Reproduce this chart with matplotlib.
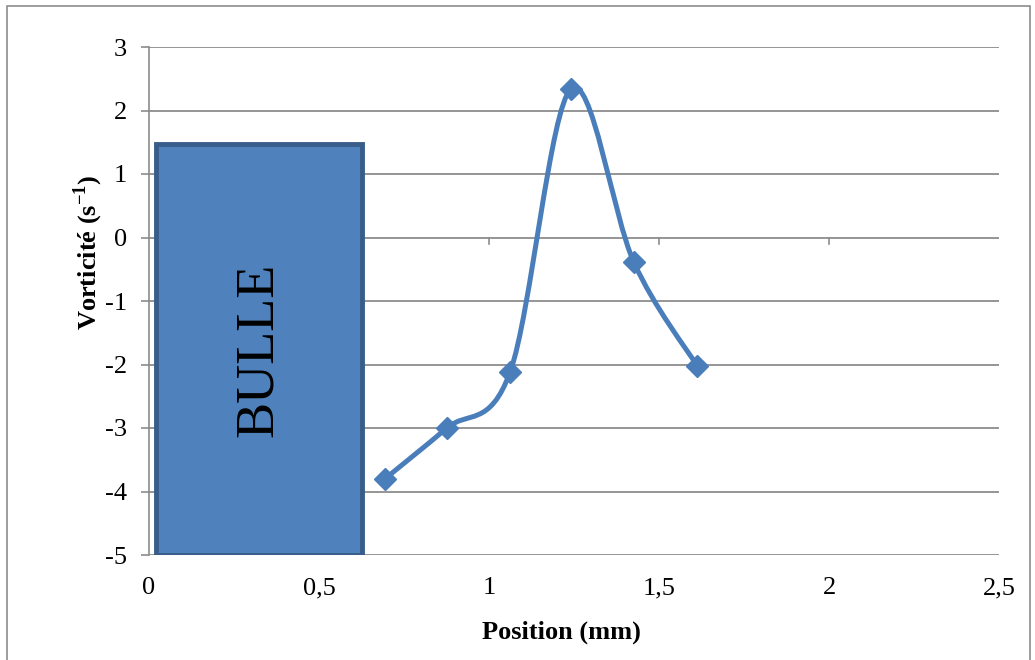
import numpy as np
import matplotlib.pyplot as plt
from matplotlib.patches import Rectangle
from matplotlib.path import Path
from matplotlib.patches import PathPatch

plt.rcParams['font.family'] = ['Liberation Serif', 'DejaVu Serif']
plt.rcParams['mathtext.fontset'] = 'custom'
plt.rcParams['mathtext.rm'] = 'Liberation Serif'
plt.rcParams['mathtext.bf'] = 'Liberation Serif:bold'

# donnees
position = [0.694, 0.876, 1.062, 1.241, 1.426, 1.612]
vorticite = [-3.80, -3.00, -2.12, 2.34, -0.39, -2.02]
xticks = [0, 0.5, 1, 1.5, 2, 2.5]
xticklabels = ["0", "0,5", "1", "1,5", "2", "2,5"]
yticks = [-5, -4, -3, -2, -1, 0, 1, 2, 3]
bulle_x = [0.02, 0.626]
bulle_y = [-5.0, 1.47]

blue = "#4A7EBB"
grid = "#8C8C8C"

fig = plt.figure(figsize=(10.35, 6.6), dpi=100)
ax = fig.add_axes([149/1035, 1-555/660, 850/1035, 508/660])

# cadre du graphique
fig.patches.append(Rectangle((7/1035, -0.01), 1023/1035, 1-6/660+0.01,
                             transform=fig.transFigure, fill=False,
                             edgecolor="#8C8C8C", lw=1.2))

ax.set_xlim(0, 2.5)
ax.set_ylim(-5, 3)
for s in ["top", "right", "bottom"]:
    ax.spines[s].set_visible(False)
ax.spines["left"].set_color(grid)
ax.spines["left"].set_linewidth(1.2)

for y in yticks:
    ax.axhline(y, color=grid, lw=1.3, zorder=1)

ax.set_yticks(yticks)
ax.set_yticklabels([str(v) for v in yticks])
ax.set_xticks(xticks)
ax.set_xticklabels(xticklabels)
ax.tick_params(axis="y", length=6, color=grid, width=1.2, labelsize=19, pad=10)
ax.tick_params(axis="x", length=0, labelsize=19, pad=16)

# petits reperes sur l'axe y=0
for x in xticks[1:-1]:
    ax.plot([x, x], [0, -0.1], color=grid, lw=1.2, zorder=1)

# bulle
ax.add_patch(Rectangle((bulle_x[0], bulle_y[0]), bulle_x[1]-bulle_x[0],
                       bulle_y[1]-bulle_y[0], facecolor="#4F81BD",
                       edgecolor="#385D8A", lw=3.5, zorder=3))
ax.text(np.mean(bulle_x), np.mean(bulle_y), "BULLE", rotation=90,
        ha="center", va="center", fontsize=39, zorder=4)

# courbe lissee (bezier type Excel)
px = np.array(position)
py = np.array(vorticite)
verts = [(px[0], py[0])]
codes = [Path.MOVETO]
n = len(px)
for i in range(n-1):
    i0 = max(i-1, 0)
    i3 = min(i+2, n-1)
    c1 = (px[i] + (px[i+1]-px[i0])/6, py[i] + (py[i+1]-py[i0])/6)
    c2 = (px[i+1] - (px[i3]-px[i])/6, py[i+1] - (py[i3]-py[i])/6)
    verts += [c1, c2, (px[i+1], py[i+1])]
    codes += [Path.CURVE4]*3
ax.add_patch(PathPatch(Path(verts, codes), facecolor="none", edgecolor=blue,
                       lw=3.6, zorder=5, capstyle="round"))
ax.plot(position, vorticite, linestyle="none", marker="D", markersize=11.5,
        color=blue, zorder=6)

fig.text(561/1035, 1-632/660, "Position (mm)", ha="center", va="center",
         fontsize=19, fontweight="bold")
fig.text(88/1035, 1-252/660, "Vorticité (s$^{\\mathbf{-1}}$)", ha="center",
         va="center", rotation=90, fontsize=19, fontweight="bold")

fig.savefig("out.png", dpi=100)
